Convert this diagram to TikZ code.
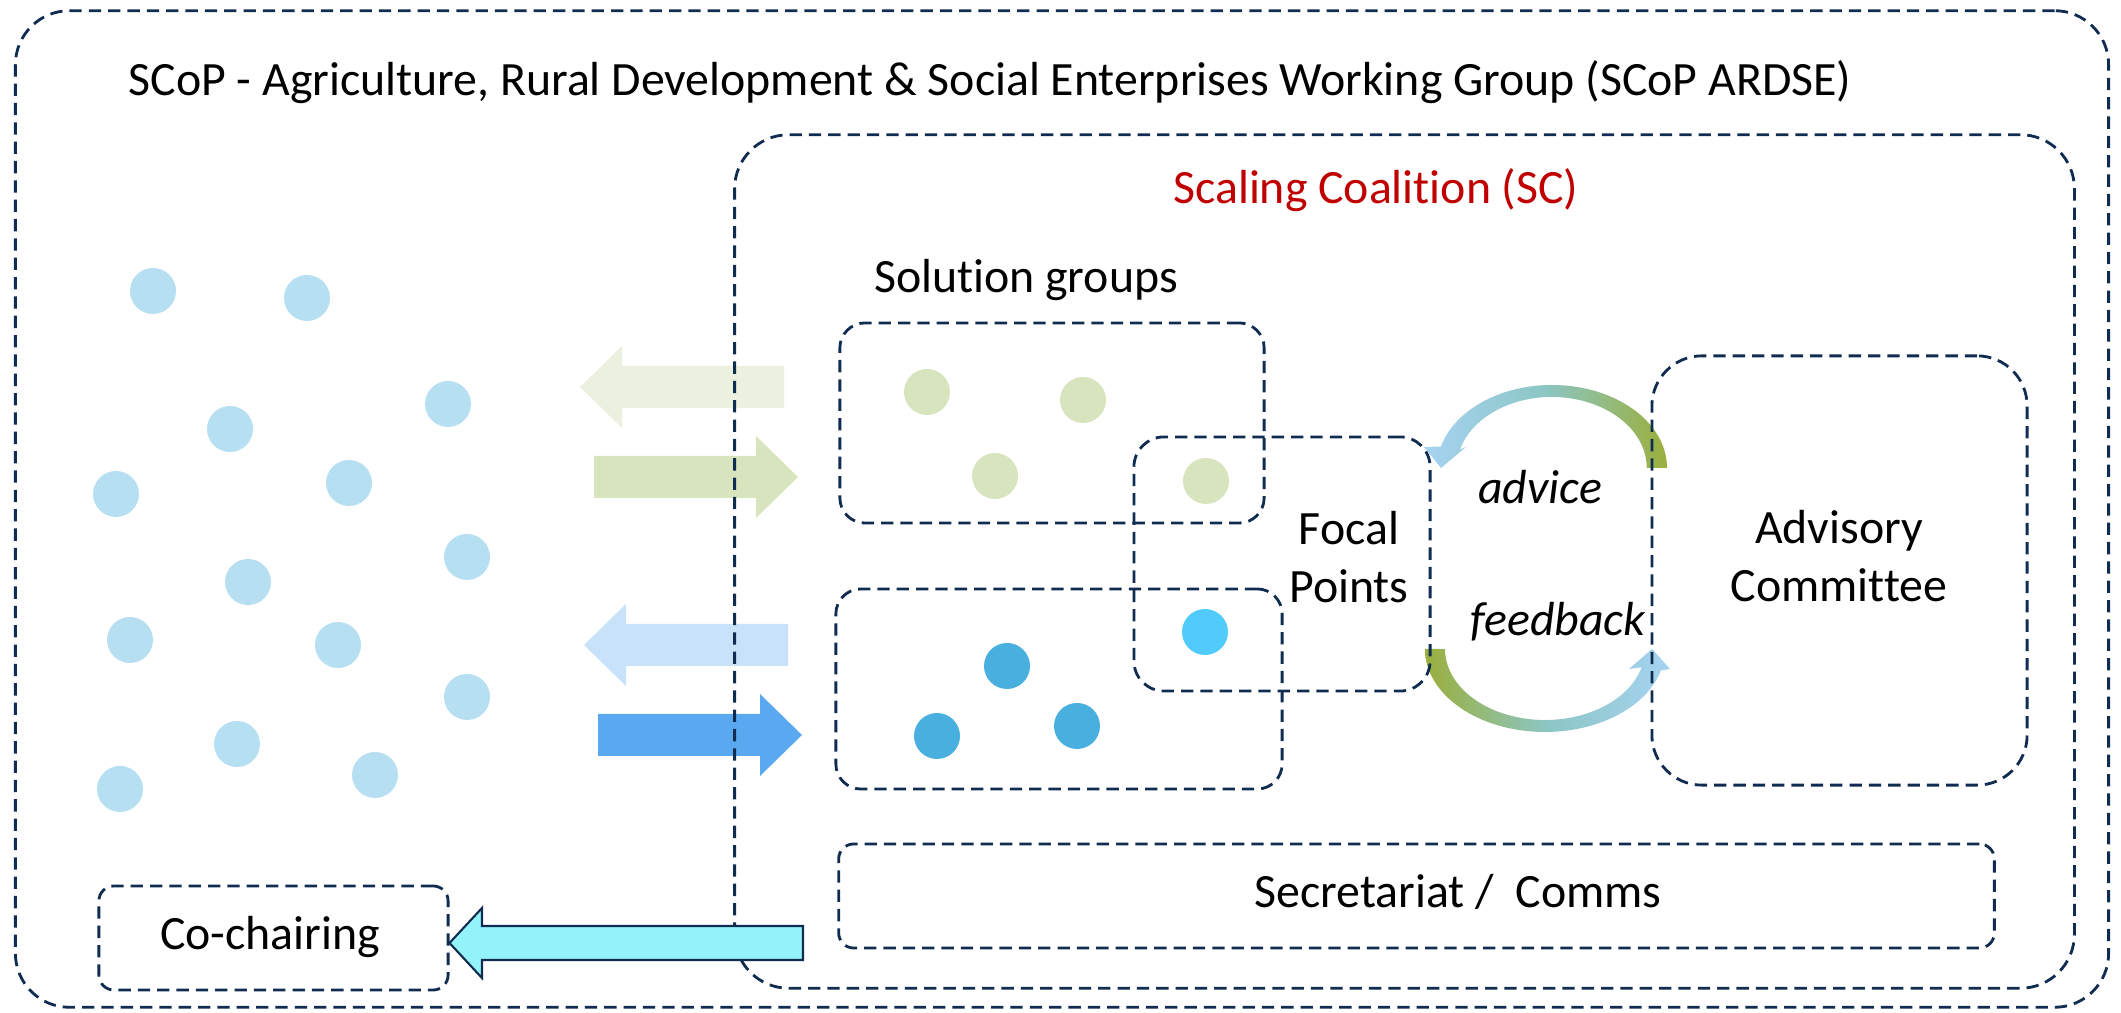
\documentclass[tikz,border=0pt]{standalone}
\usepackage{fontspec}
\setmainfont{Carlito}[Ligatures=NoCommon]
\usetikzlibrary{positioning}

\definecolor{navy}{RGB}{16,44,80}
\definecolor{dotblue}{RGB}{182,223,242}
\definecolor{dotgreen}{RGB}{215,228,189}
\definecolor{dotdeep}{RGB}{72,175,222}
\definecolor{dotcyan}{RGB}{80,203,252}
\definecolor{arrpale}{RGB}{235,241,222}
\definecolor{arrlight}{RGB}{200,226,249}
\definecolor{arrdeep}{RGB}{90,169,240}
\definecolor{arrcyan}{RGB}{148,243,249}
\definecolor{olive}{RGB}{155,175,60}
\definecolor{skyb}{RGB}{166,211,242}
\definecolor{tealmid}{RGB}{140,198,196}
\definecolor{scred}{RGB}{192,0,0}

\tikzset{
  dbox/.style={draw=navy, line width=0.8pt, dash pattern=on 3.5pt off 2pt, inner sep=0pt},
  lbl/.style={inner sep=0pt, align=center},
}

\begin{document}
\begin{tikzpicture}[x=0.01cm, y=0.01cm, font=\fontsize{13.6}{16.4}\selectfont]
\useasboundingbox (0,0) rectangle (2121,1013);

% members of the working group
\foreach \x/\y in {153/722, 307/715, 230/584, 448/609, 116/519, 349/530, 248/431,
                   467/456, 130/373, 338/368, 467/316, 237/269, 375/238, 120/224}
  \fill[dotblue] (\x,\y) circle[radius=23];

% solution group members
\foreach \x/\y in {927/621, 1083/613, 995/537, 1206/532}
  \fill[dotgreen] (\x,\y) circle[radius=23];
\foreach \x/\y in {1007/347, 937/277, 1077/287}
  \fill[dotdeep] (\x,\y) circle[radius=23];
\fill[dotcyan] (1205,381) circle[radius=23];

% exchange arrows
\foreach \tail/\base/\tip/\yc/\col in {784/622/580/626/arrpale, 594/756/798/536/dotgreen,
                                       788/626/584/368/arrlight, 598/760/802/278/arrdeep}
  \fill[\col] (\tail,\yc+21) -- (\base,\yc+21) -- (\base,\yc+41) -- (\tip,\yc)
    -- (\base,\yc-41) -- (\base,\yc-21) -- (\tail,\yc-21) -- cycle;

% advice / feedback loop
\shade[left color=skyb, right color=olive, middle color=tealmid]
  (1667,545) arc[start angle=0, end angle=165, x radius=115, y radius=83]
  -- (1424,566) -- (1441,545) -- (1466,566) -- (1460,563.4)
  arc[start angle=165, end angle=0, x radius=95, y radius=71] -- cycle;
\shade[left color=olive, right color=skyb, middle color=tealmid]
  (1425,364) arc[start angle=180, end angle=345, x radius=120, y radius=83]
  -- (1670,344) -- (1652,364) -- (1629,344) -- (1641.6,345.6)
  arc[start angle=345, end angle=180, x radius=100, y radius=71] -- cycle;

% boxes
\node[dbox, rounded corners=0.54cm, minimum width=20.92cm, minimum height=9.96cm] (outer) at (1062,504) {};
\node[dbox, rounded corners=0.54cm, minimum width=13.39cm, minimum height=8.53cm] (sc) at (1404.5,451.5) {};
\node[dbox, rounded corners=0.25cm, minimum width=4.24cm, minimum height=2.00cm] (sgA) at (1052,590) {};
\node[dbox, rounded corners=0.25cm, minimum width=4.46cm, minimum height=2.00cm] (sgB) at (1059,324) {};
\node[dbox, rounded corners=0.3cm, minimum width=2.96cm, minimum height=2.54cm] (focal) at (1282,449) {};
\node[dbox, rounded corners=0.5cm, minimum width=3.75cm, minimum height=4.29cm] (advisory) at (1839.5,442.5) {};
\node[dbox, rounded corners=0.15cm, minimum width=11.55cm, minimum height=1.04cm] (secr) at (1416.5,117) {};
\node[dbox, rounded corners=0.15cm, minimum width=3.49cm, minimum height=1.04cm] (cochair) at (273.5,75) {};

% co-chairing arrow
\filldraw[fill=arrcyan, draw=navy, line width=0.6pt]
  (803,87) -- (482,87) -- (482,105) -- (cochair.east |- 0,70) -- (482,35) -- (482,53) -- (803,53) -- cycle;

% labels
\node[lbl, anchor=west] (title) at (128,931)
  {SCoP - Agriculture, Rural Development \& Social Enterprises Working Group (SCoP ARDSE)};
\node[lbl, text=scred] (sctitle) at (1376,823) {Scaling Coalition (SC)};
\node[lbl] (sglabel) at (1026,733) {Solution groups};
\node[lbl] (fplabel) at (1349,456) {Focal\\Points};
\node[lbl] (aclabel) at (1839,457) {Advisory\\Committee};
\node[lbl, font=\fontsize{13.6}{16.4}\selectfont\itshape] (advice) at (1540,526) {advice};
\node[lbl, font=\fontsize{13.6}{16.4}\selectfont\itshape] (feedback) at (1558,391) {feedback};
\node[lbl] (secrlabel) at (1458,121) {Secretariat /~ Comms};
\node[lbl] (cclabel) at (270,76) {Co-chairing};
\end{tikzpicture}
\end{document}
